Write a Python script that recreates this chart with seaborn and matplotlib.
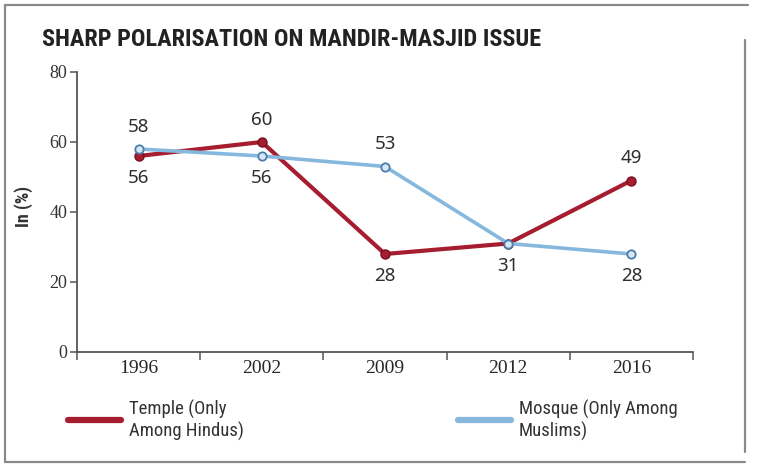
import matplotlib
matplotlib.use('Agg')
import matplotlib.pyplot as plt
import seaborn as sns
import pandas as pd
from matplotlib.lines import Line2D
from matplotlib import font_manager

# ---- data ----
years = ['1996', '2002', '2009', '2012', '2016']
temple = [56, 60, 28, 31, 49]
mosque = [58, 56, 53, 31, 28]
temple_label = 'Temple (Only\nAmong Hindus)'
mosque_label = 'Mosque (Only Among\nMuslims)'
title = 'SHARP POLARISATION ON MANDIR-MASJID ISSUE'
y_label = 'In (%)'
y_ticks = [0, 20, 40, 60, 80]
# value-label placement per point: 1 above, -1 below, 0 none
temple_pos = [-1, 1, -1, -1, 1]
mosque_pos = [1, -1, 1, 0, -1]

# ---- style ----
sns.set_theme(style='white')
plt.rcParams['font.family'] = ['Liberation Serif', 'DejaVu Serif']
installed = {f.name for f in font_manager.fontManager.ttflist}
narrow_cands = ['Liberation Sans Narrow', 'DejaVu Sans Condensed', 'Roboto Condensed',
                'Open Sans Condensed', 'Noto Sans Condensed']
NARROW = [f for f in narrow_cands if f in installed] + ['Liberation Sans', 'DejaVu Sans']
has_narrow = NARROW[0] in narrow_cands
SANS = ['Noto Sans', 'DejaVu Sans']
RED = '#a51d2f'
BLUE = '#86b7dd'
AXC = '#555555'

W, H = 759, 471
fig = plt.figure(figsize=(W / 100, H / 100), dpi=100)
fig.patch.set_facecolor('white')
ax = fig.add_axes([77 / W, 1 - 352 / H, 616 / W, 280 / H])

df = pd.DataFrame({
    'year': years * 2,
    'value': temple + mosque,
    'series': ['temple'] * len(years) + ['mosque'] * len(years),
})

sns.lineplot(data=df[df.series == 'temple'], x='year', y='value', ax=ax,
             color=RED, lw=3.0, marker='o', ms=6.5, mfc=RED, mec='#7a1020',
             mew=1.0, sort=False, zorder=3)
sns.lineplot(data=df[df.series == 'mosque'], x='year', y='value', ax=ax,
             color=BLUE, lw=2.6, marker='o', ms=6, mfc='#d8e7f4',
             mec='#4b7cac', mew=1.3, sort=False, zorder=4)

# value labels
for vals, pos in ((temple, temple_pos), (mosque, mosque_pos)):
    for i, (v, p) in enumerate(zip(vals, pos)):
        if p == 0:
            continue
        ax.annotate(str(v), (i, v), xytext=(0, 16 * p), textcoords='offset points',
                    ha='center', va='center', fontsize=13.5, color='#2e2e2e',
                    family=SANS)

# axes
ax.set_xlim(-0.5, len(years) - 0.5)
ax.set_ylim(0, 80)
ax.set_xlabel('')
ax.set_ylabel(y_label, fontsize=13, color='#333333', family=NARROW, fontweight='bold')
ax.yaxis.set_label_coords(-0.071, 0.52)
ax.set_yticks(y_ticks)
ax.set_xticks(range(len(years)))
ax.set_xticklabels(years)
ax.set_xticks([i - 0.5 for i in range(len(years) + 1)], minor=True)
ax.tick_params(axis='x', which='major', length=0, pad=6, labelsize=14,
               labelcolor='#262626')
ax.tick_params(axis='x', which='minor', length=6, width=1.1, color=AXC,
               direction='out', bottom=True)
ax.tick_params(axis='y', which='major', length=5, width=1.1, color=AXC,
               direction='out', left=True, pad=2, labelsize=13,
               labelcolor='#333333')
for s in ('top', 'right'):
    ax.spines[s].set_visible(False)
for s in ('left', 'bottom'):
    ax.spines[s].set_color(AXC)
    ax.spines[s].set_linewidth(1.3)
ax.grid(False)

# title
fig.text(42 / W, 1 - 40 / H, title, ha='left', va='center',
         fontsize=17.5 if has_narrow else 14.6,
         fontweight='bold', family=NARROW, color='#222222')

# legends
h1 = Line2D([], [], color=RED, lw=4.5)
h2 = Line2D([], [], color=BLUE, lw=4.5)
for h, lab, x in ((h1, temple_label, 68), (h2, mosque_label, 458)):
    fig.legend([h], [lab], loc='center left', bbox_to_anchor=(x / W, 1 - 420 / H),
               frameon=False, borderpad=0, borderaxespad=0, handlelength=2.8,
               handletextpad=0.45,
               prop={'family': NARROW, 'size': 13.5 if has_narrow else 12},
               labelcolor='#333333')

# outer frame
FR = '#8a8a8a'
for xs, ys in (((5, 748), (5, 5)), ((5, 5), (5, 462)), ((5, 745), (462, 462)),
               ((745, 745), (40, 452))):
    fig.add_artist(Line2D([x / W for x in xs], [1 - y / H for y in ys],
                          color=FR, lw=1.6, transform=fig.transFigure))

fig.savefig('out.png', dpi=100)
